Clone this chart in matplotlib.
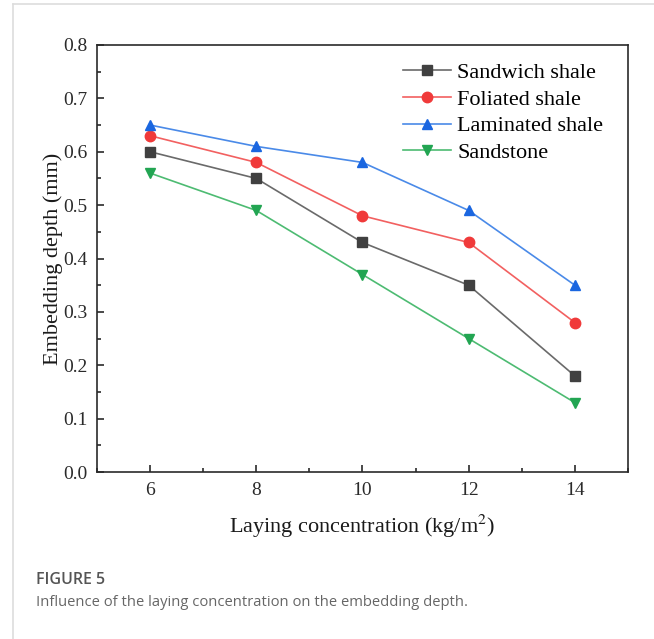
import matplotlib
matplotlib.use("Agg")
import matplotlib.pyplot as plt
from matplotlib.lines import Line2D
from matplotlib.ticker import MultipleLocator

plt.rcParams['font.family'] = ['Liberation Serif', 'DejaVu Serif']
plt.rcParams['mathtext.fontset'] = 'stix'

concentration = [6, 8, 10, 12, 14]
sandwich_shale = [0.60, 0.55, 0.43, 0.35, 0.18]
foliated_shale = [0.63, 0.58, 0.48, 0.43, 0.28]
laminated_shale = [0.65, 0.61, 0.58, 0.49, 0.35]
sandstone = [0.56, 0.49, 0.37, 0.25, 0.13]

series = [
    ("Sandwich shale", sandwich_shale, "#404040", "#6a6a6a", "s"),
    ("Foliated shale", foliated_shale, "#f03a3a", "#f26060", "o"),
    ("Laminated shale", laminated_shale, "#1a66e0", "#4a8ae8", "^"),
    ("Sandstone", sandstone, "#22a552", "#4dbb72", "v"),
]

fig = plt.figure(figsize=(6.54, 6.39), dpi=100)
ax = fig.add_axes([0.1483, 0.2613, 0.8119, 0.6683])

for label, values, mcol, lcol, marker in series:
    ax.plot(concentration, values, color=lcol, linewidth=1.2,
            marker=marker, markersize=7.5, markerfacecolor=mcol,
            markeredgecolor=mcol, label=label)

ax.set_xlim(5, 15)
ax.set_ylim(0, 0.8)
ax.xaxis.set_major_locator(MultipleLocator(2))
ax.xaxis.set_minor_locator(MultipleLocator(1))
ax.yaxis.set_major_locator(MultipleLocator(0.1))
ax.yaxis.set_minor_locator(MultipleLocator(0.05))
ax.tick_params(which='both', direction='in', labelsize=14, width=1.2,
               colors='#2a2a2a')
ax.tick_params(which='major', length=5, pad=7)
ax.tick_params(which='minor', length=3)
ax.yaxis.set_major_formatter(plt.FormatStrFormatter('%.1f'))
for s in ax.spines.values():
    s.set_linewidth(1.2)
    s.set_color('#2a2a2a')

ax.set_xlabel(r"Laying concentration (kg/m$^2$)", fontsize=16, labelpad=10,
              color='#1a1a1a')
ax.set_ylabel("Embedding depth (mm)", fontsize=16, labelpad=0,
              color='#1a1a1a')

leg = ax.legend(loc='upper right', frameon=False, fontsize=16,
                handlelength=2.15, handletextpad=0.3, labelspacing=0.28,
                borderaxespad=0.3, bbox_to_anchor=(0.983, 0.996))

# figure panel border and caption
fig.add_artist(Line2D([13 / 654, 1.0], [1 - 4 / 639, 1 - 4 / 639],
                      color='#dddddd', linewidth=1.2))
fig.add_artist(Line2D([13 / 654, 13 / 654], [0, 1 - 4 / 639],
                      color='#dddddd', linewidth=1.2))
fig.text(36 / 654, 1 - 580 / 639, "FIGURE 5", family='Open Sans',
         fontsize=11.5, color='#555555', va='center', weight='semibold')
fig.text(36 / 654, 1 - 602 / 639,
         "Influence of the laying concentration on the embedding depth.",
         family='Open Sans', fontsize=10.6, color='#666666', va='center')

fig.savefig("out.png", dpi=100)
